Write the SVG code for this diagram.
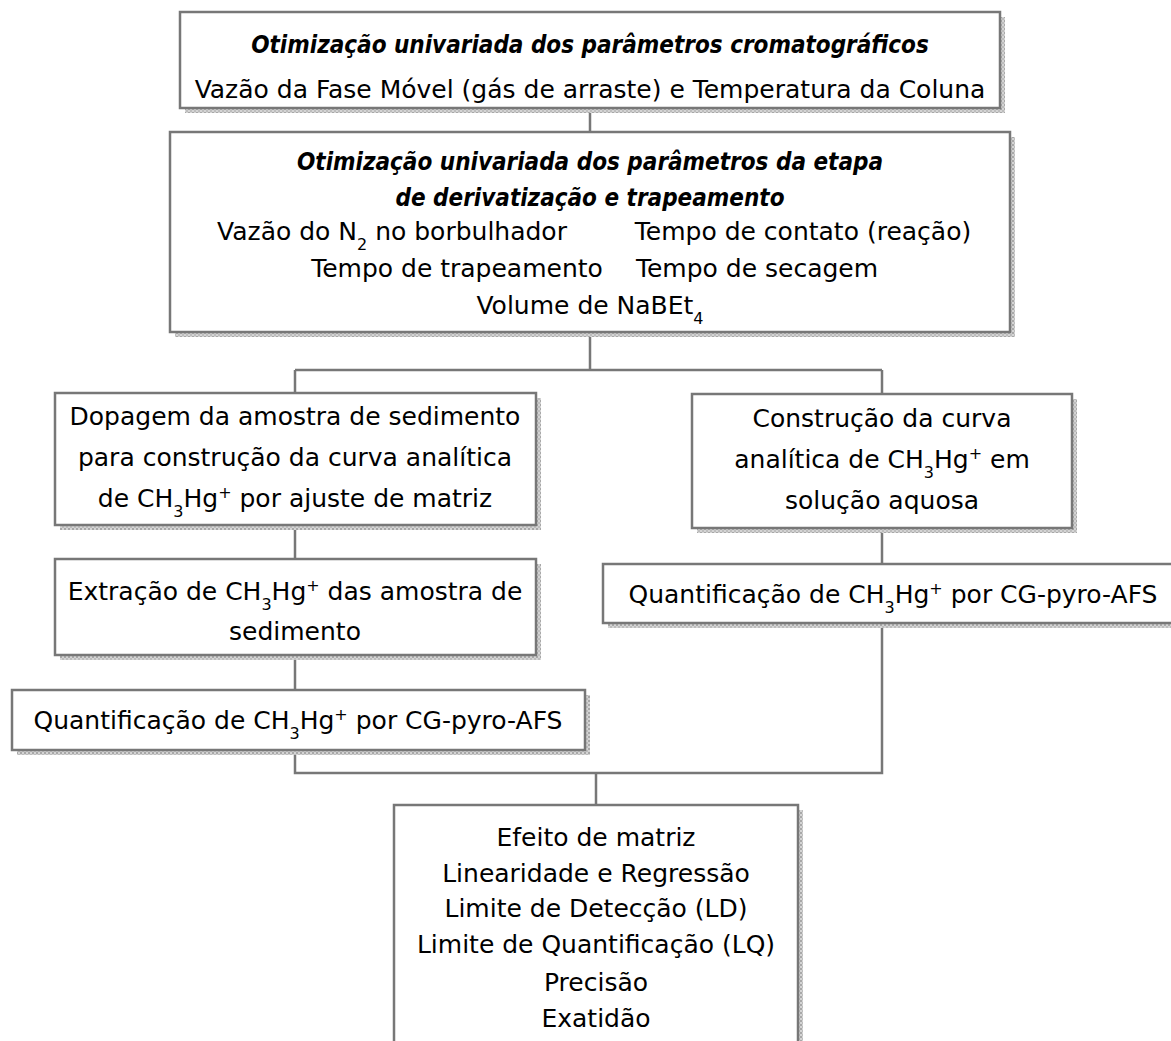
<svg xmlns="http://www.w3.org/2000/svg" width="1171" height="1041" viewBox="0 0 1171 1041">
<defs>
<pattern id="hatch" width="4" height="4" patternUnits="userSpaceOnUse">
<rect width="4" height="4" fill="#d4d4d4"/>
<rect x="0" y="0" width="2" height="2" fill="#a8a8a8"/>
<rect x="2" y="2" width="2" height="2" fill="#bdbdbd"/>
</pattern>
<style>
.box{fill:#fff;stroke:#777;stroke-width:2.5}
.sh{fill:url(#hatch)}
.t{font-family:"DejaVu Sans","Liberation Sans",sans-serif;font-size:25px;fill:#000;text-anchor:middle}
.h{font-family:"DejaVu Sans Condensed","DejaVu Sans",sans-serif;font-weight:bold;font-style:italic;font-size:24px}
.c{fill:none;stroke:#777;stroke-width:2.5}
.s{font-size:16px}
</style>
</defs>
<rect width="1171" height="1041" fill="#fff"/>

<g id="connectors">
<path class="c" d="M590 108V132"/>
<path class="c" d="M590 332V370M295 370H882M295 370V393M882 370V394"/>
<path class="c" d="M295 525V559"/>
<path class="c" d="M295 655V690"/>
<path class="c" d="M882 528V564"/>
<path class="c" d="M295 750V773H882V623"/>
<path class="c" d="M596 773V805"/>
</g>

<g id="n1">
<rect class="sh" x="185" y="17" width="820" height="96"/>
<rect class="box" x="180" y="12" width="820" height="96"/>
<text class="t h" x="590" y="53">Otimização univariada dos parâmetros cromatográficos</text>
<text class="t" x="590" y="98">Vazão da Fase Móvel (gás de arraste) e Temperatura da Coluna</text>
</g>

<g id="n2">
<rect class="sh" x="175" y="137" width="840" height="200"/>
<rect class="box" x="170" y="132" width="840" height="200"/>
<text class="t h" x="590" y="170">Otimização univariada dos parâmetros da etapa</text>
<text class="t h" x="590" y="206">de derivatização e trapeamento</text>
<text class="t" x="392" y="240">Vazão do N<tspan class="s" baseline-shift="sub">2</tspan> no borbulhador</text>
<text class="t" x="803" y="240">Tempo de contato (reação)</text>
<text class="t" x="457" y="277">Tempo de trapeamento</text>
<text class="t" x="757" y="277">Tempo de secagem</text>
<text class="t" x="590" y="314">Volume de NaBEt<tspan class="s" baseline-shift="sub">4</tspan></text>
</g>

<g id="n3">
<rect class="sh" x="60" y="398" width="481" height="132"/>
<rect class="box" x="55" y="393" width="481" height="132"/>
<text class="t" x="295" y="425">Dopagem da amostra de sedimento</text>
<text class="t" x="295" y="466">para construção da curva analítica</text>
<text class="t" x="295" y="507">de CH<tspan class="s" baseline-shift="sub">3</tspan>Hg<tspan class="s" baseline-shift="super">+</tspan> por ajuste de matriz</text>
</g>

<g id="n4">
<rect class="sh" x="697" y="399" width="380" height="134"/>
<rect class="box" x="692" y="394" width="380" height="134"/>
<text class="t" x="882" y="427">Construção da curva</text>
<text class="t" x="882" y="468">analítica de CH<tspan class="s" baseline-shift="sub">3</tspan>Hg<tspan class="s" baseline-shift="super">+</tspan> em</text>
<text class="t" x="882" y="509">solução aquosa</text>
</g>

<g id="n5">
<rect class="sh" x="60" y="564" width="481" height="96"/>
<rect class="box" x="55" y="559" width="481" height="96"/>
<text class="t" x="295" y="600">Extração de CH<tspan class="s" baseline-shift="sub">3</tspan>Hg<tspan class="s" baseline-shift="super">+</tspan> das amostra de</text>
<text class="t" x="295" y="640">sedimento</text>
</g>

<g id="n6">
<rect class="sh" x="608" y="569" width="580" height="59"/>
<rect class="box" x="603" y="564" width="580" height="59"/>
<text class="t" x="893" y="603">Quantificação de CH<tspan class="s" baseline-shift="sub">3</tspan>Hg<tspan class="s" baseline-shift="super">+</tspan> por CG-pyro-AFS</text>
</g>

<g id="n7">
<rect class="sh" x="17" y="695" width="573" height="60"/>
<rect class="box" x="12" y="690" width="573" height="60"/>
<text class="t" x="298" y="729">Quantificação de CH<tspan class="s" baseline-shift="sub">3</tspan>Hg<tspan class="s" baseline-shift="super">+</tspan> por CG-pyro-AFS</text>
</g>

<g id="n8">
<rect class="sh" x="399" y="810" width="404" height="250"/>
<rect class="box" x="394" y="805" width="404" height="250"/>
<text class="t" x="596" y="846">Efeito de matriz</text>
<text class="t" x="596" y="882">Linearidade e Regressão</text>
<text class="t" x="596" y="917">Limite de Detecção (LD)</text>
<text class="t" x="596" y="953">Limite de Quantificação (LQ)</text>
<text class="t" x="596" y="991">Precisão</text>
<text class="t" x="596" y="1027">Exatidão</text>
</g>
</svg>
